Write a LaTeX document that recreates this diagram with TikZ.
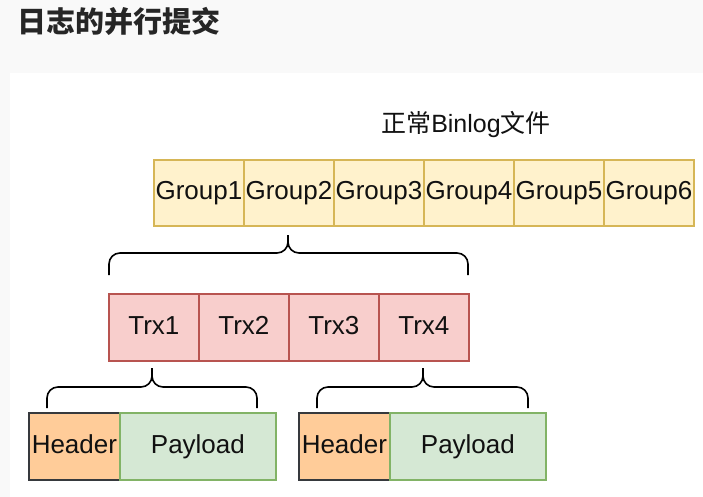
\documentclass[tikz,border=0pt]{standalone}
\usepackage{fontspec}
\setmainfont{Liberation Sans}
\newfontfamily\cjk{Noto Sans CJK SC}
\definecolor{bgray}{HTML}{F9F9F9}
\definecolor{gfill}{HTML}{FFF2CC}
\definecolor{gline}{HTML}{D6B656}
\definecolor{tfill}{HTML}{F8CECC}
\definecolor{tline}{HTML}{B85450}
\definecolor{hfill}{HTML}{FFCC99}
\definecolor{hline}{HTML}{36393D}
\definecolor{pfill}{HTML}{D5E8D4}
\definecolor{pline}{HTML}{82B366}
\definecolor{txt}{HTML}{111111}
\begin{document}
\begin{tikzpicture}[x=1pt,y=-1pt,
  cell/.style={draw, line width=1.8pt, anchor=north west, inner sep=0pt,
    minimum height=66pt, text=txt, font=\fontsize{26}{30}\selectfont,
    text height=19pt, text depth=5pt},
  gbox/.style={cell, fill=gfill, draw=gline, minimum width=90pt},
  tbox/.style={cell, fill=tfill, draw=tline, minimum width=90pt, minimum height=67pt},
  hbox/.style={cell, fill=hfill, draw=hline, minimum width=91pt, minimum height=67pt},
  pbox/.style={cell, fill=pfill, draw=pline, minimum width=156pt, minimum height=67pt},
  brace/.style={draw=black, line width=1.6pt, rounded corners=11pt}
]
\useasboundingbox (0,0) rectangle (703,497);
\fill[bgray] (0,0) rectangle (703,497);
\fill[white] (10,73) rectangle (703,497);

\node[anchor=west, inner sep=0pt, text=black!85, font=\cjk\bfseries\fontsize{29}{32}\selectfont] (title) at (17,21) {日志的并行提交};
\node[inner sep=0pt, text=txt, font=\fontsize{25}{30}\selectfont] (cap) at (466,125) {{\cjk 正常}Binlog{\cjk 文件}};

\node[gbox] (g1) at (153,159) {Group1};
\node[gbox] (g2) at (243,159) {Group2};
\node[gbox] (g3) at (333,159) {Group3};
\node[gbox] (g4) at (423,159) {Group4};
\node[gbox] (g5) at (513,159) {Group5};
\node[gbox] (g6) at (603,159) {Group6};

\node[tbox] (t1) at (108,293) {Trx1};
\node[tbox] (t2) at (198,293) {Trx2};
\node[tbox] (t3) at (288,293) {Trx3};
\node[tbox] (t4) at (378,293) {Trx4};

\node[hbox] (h1) at (28,412) {Header};
\node[pbox] (p1) at (119,412) {Payload};
\node[hbox] (h2) at (298,412) {Header};
\node[pbox] (p2) at (389,412) {Payload};

% brace under Group2
\path[brace] (109,275) -- (109,253) -- (288,253) -- (288,235);
\path[brace] (288,235) -- (288,253) -- (468,253) -- (468,275);
% brace under Trx1
\path[brace] (47,408) -- (47,387) -- (152,387) -- (152,368);
\path[brace] (152,368) -- (152,387) -- (257,387) -- (257,408);
% brace under Trx4
\path[brace] (317,408) -- (317,387) -- (423,387) -- (423,368);
\path[brace] (423,368) -- (423,387) -- (528,387) -- (528,408);
\end{tikzpicture}
\end{document}
